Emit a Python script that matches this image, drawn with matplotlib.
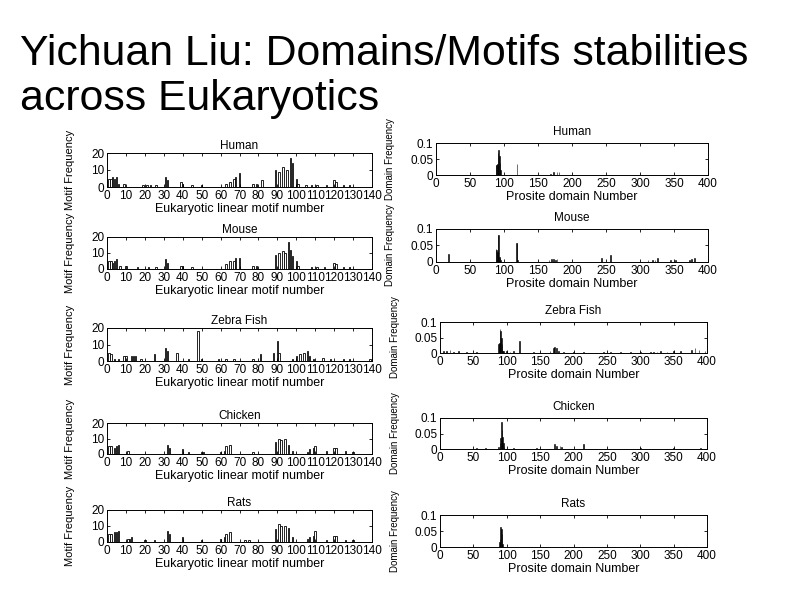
import matplotlib
matplotlib.use("Agg")
import matplotlib.pyplot as plt

plt.rcParams['font.family'] = ['Liberation Sans', 'DejaVu Sans']

species = ["Human", "Mouse", "Zebra Fish", "Chicken", "Rats"]

# Eukaryotic linear motif frequencies (left column)
human_motif_x = [1, 2, 3, 4, 5, 6, 9, 19, 21, 23, 26, 31, 32, 39, 40, 45, 50, 63, 65, 67, 68, 70, 77, 79, 82,
                 89, 91, 93, 95, 97, 98, 100, 101, 105, 108, 111, 116, 120, 121, 125, 128]
human_motif_y = [5, 5, 6, 5, 6, 2, 2, 1, 1, 1, 1, 6, 4, 3, 2, 1, 1, 2, 3, 5, 6, 8, 2, 2, 4,
                 10, 9, 12, 10, 17, 14, 5, 2, 1, 1, 1, 1, 4, 3, 1, 1]
mouse_motif_x = [1, 2, 3, 4, 5, 7, 10, 16, 22, 26, 31, 32, 39, 40, 45, 63, 65, 67, 68, 70, 77, 79,
                 89, 91, 93, 94, 96, 97, 98, 100, 101, 108, 111, 115, 120, 121, 125, 128]
mouse_motif_y = [5, 5, 4, 5, 6, 2, 2, 1, 1, 1, 6, 4, 2, 2, 1, 3, 5, 5, 7, 7, 2, 2,
                 9, 10, 11, 10, 17, 12, 8, 5, 2, 1, 1, 1, 4, 3, 1, 1]
zebra_motif_x = [1, 2, 4, 6, 9, 10, 13, 14, 15, 18, 25, 31, 32, 37, 43, 48, 50, 59, 63, 67, 77, 81,
                 88, 90, 91, 98, 100, 102, 104, 106, 107, 109, 114, 118, 125, 128, 139]
zebra_motif_y = [5, 4, 1, 1, 3, 3, 3, 3, 3, 1, 4, 8, 6, 5, 1, 18, 1, 1, 1, 1, 1, 4,
                 5, 12, 5, 1, 3, 4, 5, 6, 3, 1, 2, 1, 1, 1, 1]
chicken_motif_x = [1, 2, 4, 5, 6, 11, 32, 33, 40, 43, 50, 51, 60, 62, 63, 65, 77,
                   89, 91, 92, 94, 96, 98, 106, 107, 109, 110, 116, 120, 121, 126, 130]
chicken_motif_y = [5, 5, 4, 5, 6, 2, 6, 4, 3, 1, 1, 1, 1, 2, 5, 6, 1,
                   8, 10, 9, 10, 6, 2, 1, 3, 4, 5, 2, 4, 4, 2, 1]
rats_motif_x = [1, 2, 4, 5, 6, 11, 12, 13, 20, 25, 32, 33, 40, 50, 60, 62, 63, 65, 73, 75,
                89, 91, 92, 94, 96, 98, 106, 107, 109, 110, 116, 120, 121, 126, 130]
rats_motif_y = [5, 5, 6, 6, 7, 2, 2, 3, 1, 1, 7, 5, 3, 1, 2, 3, 5, 6, 1, 1,
                8, 11, 10, 10, 9, 3, 2, 3, 4, 7, 1, 4, 4, 1, 1]

# Prosite domain frequencies (right column)
human_dom_x = [88, 89, 90, 91, 92, 93, 94, 95, 119, 168, 173, 178, 181]
human_dom_y = [0.03, 0.032, 0.035, 0.07, 0.079, 0.06, 0.037, 0.015, 0.035, 0.004, 0.01, 0.008, 0.01]
mouse_dom_x = [18, 88, 89, 90, 91, 92, 93, 94, 95, 118, 119, 120, 166, 170, 173, 176, 178,
               243, 257, 312, 318, 322, 326, 345, 352, 373, 376, 380]
mouse_dom_y = [0.025, 0.04, 0.035, 0.03, 0.082, 0.082, 0.015, 0.012, 0.005, 0.058, 0.058, 0.005,
               0.005, 0.008, 0.01, 0.006, 0.01, 0.012, 0.02, 0.005, 0.005, 0.005, 0.012, 0.005,
               0.005, 0.005, 0.01, 0.012]
zebra_dom_x = [5, 10, 15, 20, 28, 40, 55, 88, 89, 90, 91, 92, 93, 94, 95, 100, 105, 110, 119,
               140, 150, 165, 170, 172, 175, 178, 185, 200, 215, 245, 255, 270, 285, 300, 315,
               320, 325, 330, 340, 350, 360, 377, 382, 388, 397]
zebra_dom_y = [0.005, 0.008, 0.01, 0.004, 0.005, 0.004, 0.003, 0.03, 0.032, 0.079, 0.07, 0.05,
               0.03, 0.008, 0.005, 0.005, 0.004, 0.005, 0.04, 0.003, 0.004, 0.005, 0.015, 0.02,
               0.015, 0.008, 0.004, 0.003, 0.003, 0.003, 0.004, 0.003, 0.003, 0.004, 0.003,
               0.004, 0.004, 0.005, 0.004, 0.005, 0.005, 0.01, 0.015, 0.01, 0.006]
chicken_dom_x = [55, 68, 88, 90, 91, 92, 93, 94, 95, 96, 110, 145, 172, 175, 180, 182, 215, 300, 350, 390]
chicken_dom_y = [0.002, 0.003, 0.005, 0.02, 0.035, 0.087, 0.06, 0.04, 0.02, 0.005, 0.003, 0.003,
                 0.015, 0.01, 0.01, 0.008, 0.015, 0.002, 0.002, 0.003]
rats_dom_x = [89, 90, 91, 92, 93, 94]
rats_dom_y = [0.015, 0.026, 0.063, 0.055, 0.042, 0.01]

motif_x = [human_motif_x, mouse_motif_x, zebra_motif_x, chicken_motif_x, rats_motif_x]
motif_y = [human_motif_y, mouse_motif_y, zebra_motif_y, chicken_motif_y, rats_motif_y]
dom_x = [human_dom_x, mouse_dom_x, zebra_dom_x, chicken_dom_x, rats_dom_x]
dom_y = [human_dom_y, mouse_dom_y, zebra_dom_y, chicken_dom_y, rats_dom_y]

W, H = 800, 600
fig = plt.figure(figsize=(8, 6), dpi=100)
fig.patch.set_facecolor("white")

fig.text(0.025, 1 - 65 / H, "Yichuan Liu: Domains/Motifs stabilities", fontsize=30.8,
         ha="left", va="baseline")
fig.text(0.025, 1 - 110 / H, "across Eukaryotics", fontsize=30.8, ha="left", va="baseline")

# pixel boxes (left, top, right, bottom)
left_boxes = [(107, 153, 372, 187), (107, 237, 372, 269), (107, 328, 372, 361),
              (107, 423, 372, 454), (107, 510, 372, 542)]
right_boxes = [(436, 143, 708, 175), (436, 229, 708, 262), (440, 322, 707, 353),
               (440, 418, 707, 449), (440, 515, 707, 547)]

fs = 8.5


def make_ax(box):
    l, t, r, b = box
    return fig.add_axes([l / W, 1 - b / H, (r - l) / W, (b - t) / H])


def style(ax):
    ax.tick_params(direction="in", length=2.5, width=0.6, labelsize=fs, pad=2,
                   top=True, right=True)
    for s in ax.spines.values():
        s.set_linewidth(0.7)


for i, name in enumerate(species):
    ax = make_ax(left_boxes[i])
    ax.bar(motif_x[i], motif_y[i], width=0.8, color="white", edgecolor="black", linewidth=0.6)
    ax.set_xlim(0, 140)
    ax.set_ylim(0, 20)
    ax.set_xticks(range(0, 141, 10))
    ax.set_yticks([0, 10, 20])
    style(ax)
    ax.set_title(name, fontsize=fs, pad=3)
    ax.set_xlabel("Eukaryotic linear motif number", fontsize=9, labelpad=1)
    ax.set_ylabel("Motif Frequency", fontsize=8)
    ax.yaxis.set_label_coords(-0.12, 0.5)

    ax2 = make_ax(right_boxes[i])
    ax2.bar(dom_x[i], dom_y[i], width=1.0, color="black", edgecolor="black", linewidth=0.4)
    ax2.set_xlim(0, 400)
    ax2.set_ylim(0, 0.1)
    ax2.set_xticks(range(0, 401, 50))
    ax2.set_yticks([0, 0.05, 0.1])
    ax2.set_yticklabels(["0", "0.05", "0.1"])
    style(ax2)
    ax2.set_title(name, fontsize=fs, pad=6)
    ax2.set_xlabel("Prosite domain Number", fontsize=9, labelpad=1)
    ax2.set_ylabel("Domain Frequency", fontsize=7)
    ax2.yaxis.set_label_coords(-0.15, 0.5)

fig.savefig("out.png", dpi=100, facecolor="white")
